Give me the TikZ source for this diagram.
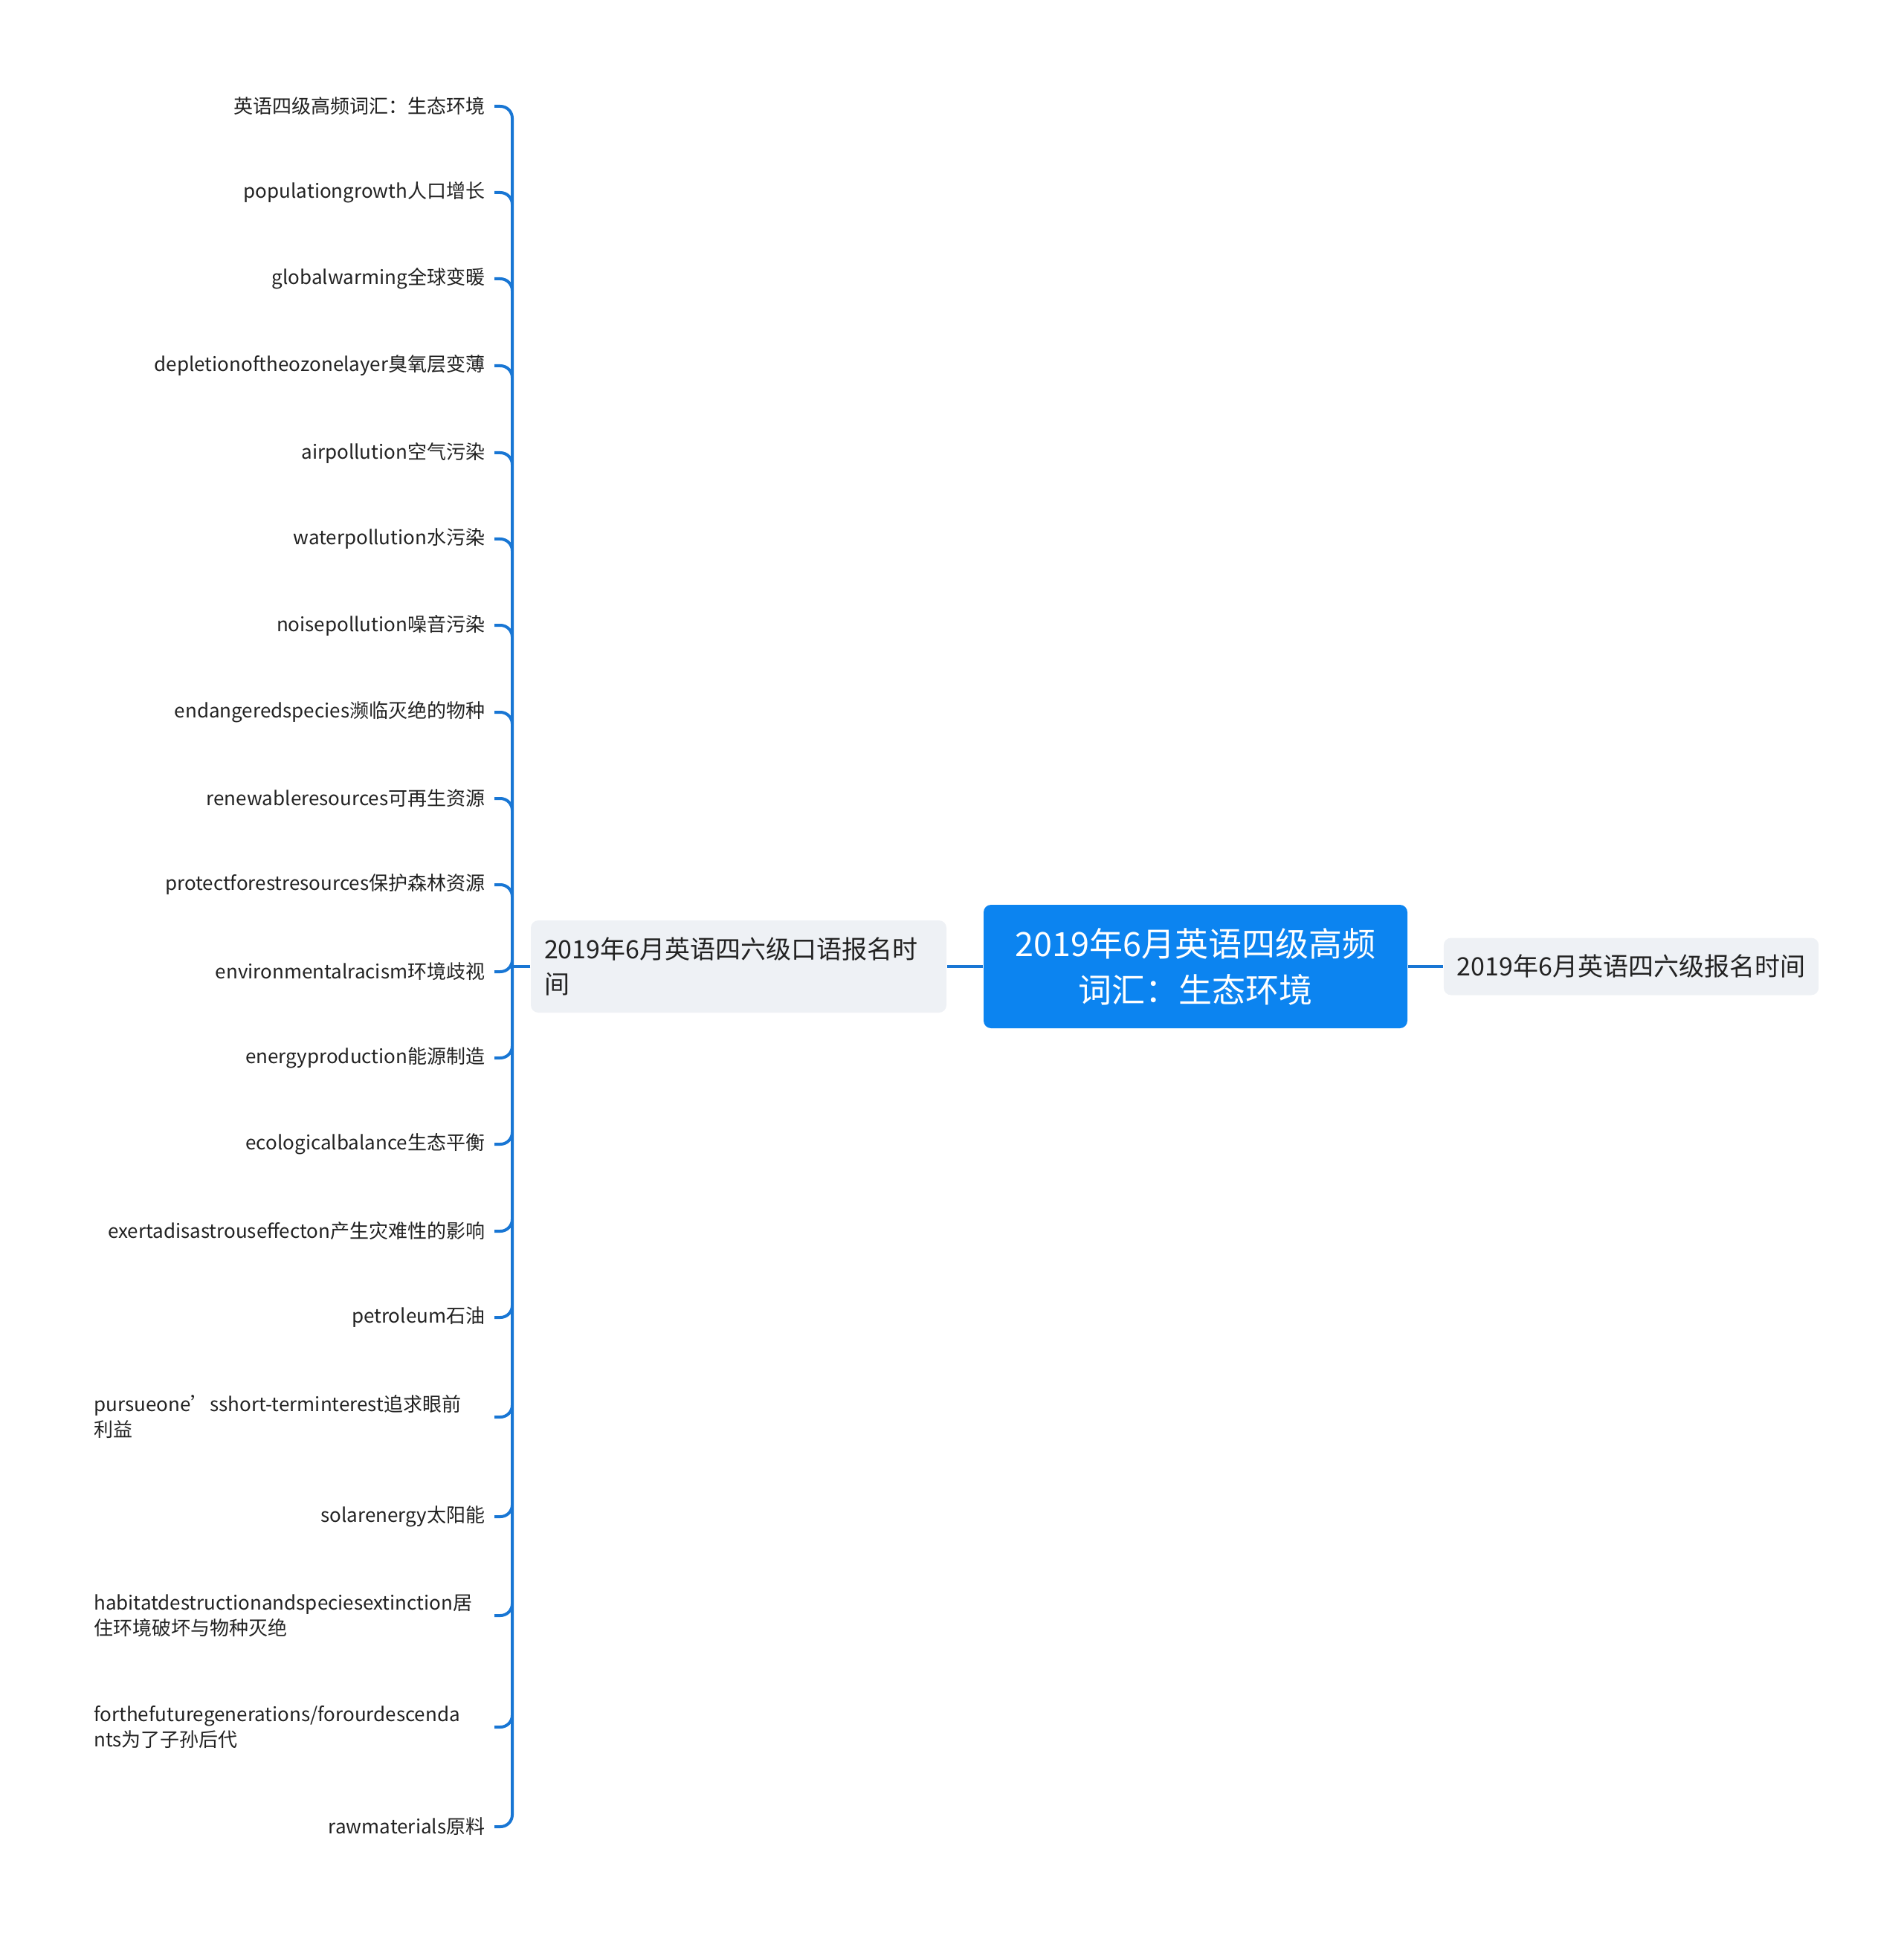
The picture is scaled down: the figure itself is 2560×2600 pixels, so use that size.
\documentclass[tikz,border=0pt]{standalone}
\usepackage{fontspec}
\setmainfont{Noto Sans CJK SC}

\definecolor{rootblue}{RGB}{12,132,240}
\definecolor{linkblue}{RGB}{24,118,212}
\definecolor{subgray}{RGB}{238,241,245}
\definecolor{inkgray}{RGB}{34,34,34}

\begin{document}
\begin{tikzpicture}[x=0.3pt,y=-0.3pt]
\tikzstyle{root-node}=
[
	rectangle, rounded corners=3pt, fill=rootblue,
	text=white, align=center,
	minimum width=171pt, minimum height=49.8pt,
	font=\fontsize{13.5pt}{18.6pt}\selectfont
]
\tikzstyle{sub-node}=
[
	rectangle, rounded corners=3pt, fill=subgray,
	text=inkgray, inner xsep=5.4pt,
	font=\fontsize{10.2pt}{14.1pt}\selectfont
]
\tikzstyle{leaf-node}=
[
	anchor=east, inner xsep=3.6pt, inner ysep=2pt,
	text=inkgray, font=\fontsize{7.8pt}{10.2pt}\selectfont
]
\tikzstyle{leaf-wide}=[leaf-node, text width=157.8pt, align=left]
\tikzstyle{link}=[draw=linkblue, line width=1.2pt]

\useasboundingbox (0,0) rectangle (2560,2600);

\node[root-node] (root) at (1608,1300) {2019年6月英语四级高频\\词汇：生态环境};
\node[sub-node, minimum width=150.6pt, minimum height=23.1pt] (apply) at (2194,1300)
	{2019年6月英语四六级报名时间};
\node[sub-node, minimum width=167.7pt, minimum height=37.2pt,
	text width=156.9pt, align=left] (oral) at (993.5,1300)
	{2019年6月英语四六级口语报名时\\间};

\coordinate (jn) at (689,1300);

\node[leaf-node] (w1) at (665,143) {英语四级高频词汇：生态环境};
\node[leaf-node] (w2) at (665,259) {populationgrowth人口增长};
\node[leaf-node] (w3) at (665,375) {globalwarming全球变暖};
\node[leaf-node] (w4) at (665,492) {depletionoftheozonelayer臭氧层变薄};
\node[leaf-node] (w5) at (665,609) {airpollution空气污染};
\node[leaf-node] (w6) at (665,725) {waterpollution水污染};
\node[leaf-node] (w7) at (665,841) {noisepollution噪音污染};
\node[leaf-node] (w8) at (665,958) {endangeredspecies濒临灭绝的物种};
\node[leaf-node] (w9) at (665,1074) {renewableresources可再生资源};
\node[leaf-node] (w10) at (665,1190) {protectforestresources保护森林资源};
\node[leaf-node] (w11) at (665,1307) {environmentalracism环境歧视};
\node[leaf-node] (w12) at (665,1423) {energyproduction能源制造};
\node[leaf-node] (w13) at (665,1539) {ecologicalbalance生态平衡};
\node[leaf-node] (w14) at (665,1656) {exertadisastrouseffecton产生灾难性的影响};
\node[leaf-node] (w15) at (665,1772) {petroleum石油};
\node[leaf-wide] (w16) at (665,1906) {pursueone’sshort-terminterest追求眼前\\利益};
\node[leaf-node] (w17) at (665,2040) {solarenergy太阳能};
\node[leaf-wide] (w18) at (665,2173) {habitatdestructionandspeciesextinction居\\住环境破坏与物种灭绝};
\node[leaf-wide] (w19) at (665,2323) {forthefuturegenerations/forourdescenda\\nts为了子孙后代};
\node[leaf-node] (w20) at (665,2457) {rawmaterials原料};

\draw[link] (root.west) -- (oral.east);
\draw[link] (root.east) -- (apply.west);
\draw[link] (oral.west) -- (jn);
\draw[link, rounded corners=4.8pt]
	(jn) |- (w1.east) (jn) |- (w2.east) (jn) |- (w3.east) (jn) |- (w4.east)
	(jn) |- (w5.east) (jn) |- (w6.east) (jn) |- (w7.east) (jn) |- (w8.east)
	(jn) |- (w9.east) (jn) |- (w10.east) (jn) |- (w11.east) (jn) |- (w12.east)
	(jn) |- (w13.east) (jn) |- (w14.east) (jn) |- (w15.east) (jn) |- (w16.east)
	(jn) |- (w17.east) (jn) |- (w18.east) (jn) |- (w19.east) (jn) |- (w20.east);
\end{tikzpicture}
\end{document}
